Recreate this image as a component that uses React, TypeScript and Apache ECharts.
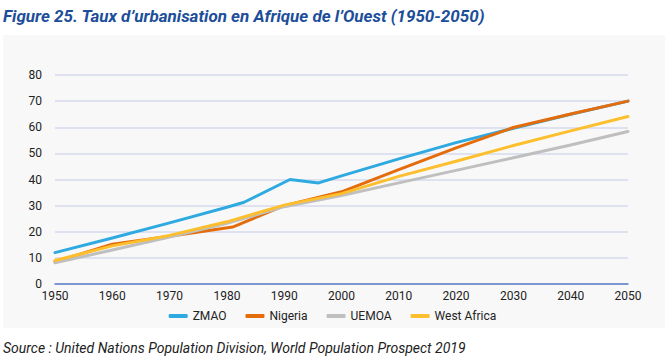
import React, { useEffect, useRef } from "react";
import * as echarts from "echarts";

const titleText = "Figure 25. Taux d’urbanisation en Afrique de l’Ouest (1950-2050)";
const sourceText = "Source : United Nations Population Division, World Population Prospect 2019";

const seriesNames = ["ZMAO", "Nigeria", "UEMOA", "West Africa"];
const seriesColors = ["#2eaae1", "#e46c0a", "#bfbfbf", "#fdbf2d"];

const zmaoYears = [1950, 1960, 1970, 1980, 1983, 1991, 1996, 2000, 2010, 2020, 2030, 2040, 2050];
const zmaoValues = [12, 17.6, 23.4, 29.4, 31.3, 40, 38.7, 41.4, 47.9, 54.1, 59.6, 65, 70];

const nigeriaYears = [1950, 1960, 1970, 1981, 1990, 2000, 2010, 2020, 2030, 2040, 2050];
const nigeriaValues = [8.5, 15.2, 18.3, 21.8, 30, 35.3, 43.8, 52.1, 59.9, 65.1, 70];

const decadeYears = [1950, 1960, 1970, 1980, 1990, 2000, 2010, 2020, 2030, 2040, 2050];
const uemoaValues = [8.1, 13, 18, 23.2, 29.6, 33.9, 38.7, 43.5, 48.3, 53.2, 58.4];
const westAfricaValues = [9, 14.6, 18.6, 23.8, 30.2, 34.6, 41.2, 47.0, 53.0, 58.6, 64.1];

const pair = (xs: number[], ys: number[]) => xs.map((x, i) => [x, ys[i]]);

export default function App() {
  const ref = useRef<HTMLDivElement>(null);
  useEffect(() => {
    if (!ref.current) return;
    const chart = echarts.init(ref.current, null, { renderer: "svg" });
    const datasets = [
      pair(zmaoYears, zmaoValues),
      pair(nigeriaYears, nigeriaValues),
      pair(decadeYears, uemoaValues),
      pair(decadeYears, westAfricaValues),
    ];
    chart.setOption({
      animation: false,
      backgroundColor: "#ffffff",
      graphic: [
        {
          type: "rect",
          z: -10,
          shape: { x: 3, y: 35, width: 662, height: 293 },
          style: { fill: "#f8f8f8" },
          silent: true,
        },
        {
          type: "text",
          left: 3,
          top: 7,
          style: {
            text: titleText,
            fill: "#1d4e9a",
            font: "italic bold 17px Roboto",
          },
        },
        {
          type: "text",
          left: 3,
          top: 341,
          style: {
            text: sourceText,
            fill: "#222222",
            font: "italic 14px Roboto",
          },
        },
      ],
      grid: { left: 55, right: 37, top: 75, bottom: 79, containLabel: false },
      legend: {
        data: seriesNames,
        bottom: 36,
        left: "center",
        icon: "roundRect",
        itemWidth: 19,
        itemHeight: 4,
        itemGap: 19,
        textStyle: { fontFamily: "Roboto", fontSize: 12, color: "#222" },
      },
      xAxis: {
        type: "value",
        min: 1950,
        max: 2050,
        interval: 10,
        axisLine: { show: true, lineStyle: { color: "#5b7fc7", width: 1.5 } },
        axisTick: { show: false },
        splitLine: { show: false },
        axisLabel: {
          color: "#222",
          fontFamily: "Roboto",
          fontSize: 12,
          margin: 6,
          formatter: (v: number) => String(v),
        },
      },
      yAxis: {
        type: "value",
        min: 0,
        max: 80,
        interval: 10,
        axisLine: { show: false },
        axisTick: { show: false },
        splitLine: { lineStyle: { color: "#d6daee", width: 1.5 } },
        axisLabel: { color: "#222", fontFamily: "Roboto", fontSize: 12, margin: 13 },
      },
      series: seriesNames.map((name, i) => ({
        name,
        type: "line",
        data: datasets[i],
        symbol: "none",
        showSymbol: false,
        lineStyle: { color: seriesColors[i], width: 3, cap: "round", join: "round" },
        itemStyle: { color: seriesColors[i] },
      })),
    });
    return () => chart.dispose();
  }, []);
  return (
    <div
      ref={ref}
      style={{ position: "absolute", left: 0, top: 0, width: 665, height: 363 }}
    />
  );
}
